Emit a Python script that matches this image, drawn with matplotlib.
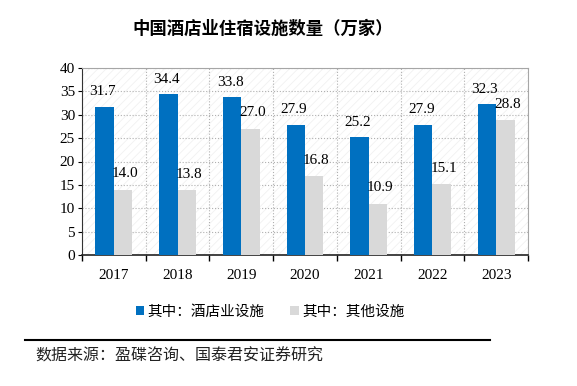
import numpy as np
import matplotlib.pyplot as plt
from matplotlib.patches import Rectangle

plt.rcParams['font.family'] = ['Noto Sans CJK SC', 'DejaVu Sans']
plt.rcParams['hatch.linewidth'] = 0.5

years = ['2017', '2018', '2019', '2020', '2021', '2022', '2023']
hotel = [31.7, 34.4, 33.8, 27.9, 25.2, 27.9, 32.3]
other = [14.0, 13.8, 27.0, 16.8, 10.9, 15.1, 28.8]
labels = ['其中：酒店业设施', '其中：其他设施']

blue = '#0070C0'
grey = '#D9D9D9'
serif = 'Liberation Serif'

fig = plt.figure(figsize=(5.77, 3.86), dpi=100)
ax = fig.add_axes([82 / 577, 1 - 255 / 386, 446 / 577, 187 / 386])

# faint diagonal hatch background
ax.add_patch(Rectangle((0, 0), 1, 1, transform=ax.transAxes, facecolor='white',
                       edgecolor='#efefef', hatch='////', lw=0, zorder=0))

x = np.arange(len(years))
w = 0.29
b1 = ax.bar(x - w / 2, hotel, w, color=blue, label=labels[0], zorder=3)
b2 = ax.bar(x + w / 2, other, w, color=grey, label=labels[1], zorder=3)

for xi, v in zip(x, hotel):
    ax.annotate(f'{v:.1f}', (xi - w / 2 - 0.03, v), xytext=(0, 6), textcoords='offset points',
                ha='center', va='bottom', fontsize=11, family=serif, zorder=4)
for xi, v in zip(x, other):
    ax.annotate(f'{v:.1f}', (xi + w / 2 + 0.03, v), xytext=(0, 7), textcoords='offset points',
                ha='center', va='bottom', fontsize=11, family=serif, zorder=4)

ax.set_xlim(-0.5, len(years) - 0.5)
ax.set_ylim(0, 40)
ax.set_yticks(range(0, 41, 5))
ax.set_xticks(x)
ax.set_xticklabels(years, family=serif, fontsize=11)
ax.set_xticks(np.arange(-0.5, len(years)), minor=True)
for lab in ax.get_yticklabels():
    lab.set_family(serif)
    lab.set_fontsize(11)

ax.tick_params(axis='x', which='major', length=0, pad=10)
ax.tick_params(axis='x', which='minor', length=4, direction='out', width=1)
ax.tick_params(axis='y', length=3, direction='out', pad=2)
ax.grid(axis='y', linestyle=':', color='#b0b0b0', lw=0.8, zorder=1)
ax.grid(axis='x', which='minor', linestyle=':', color='#b0b0b0', lw=0.8, zorder=1)

for s in ['top', 'right']:
    ax.spines[s].set_color('#a6a6a6')
ax.spines['left'].set_color('#333333')
ax.spines['bottom'].set_color('#222222')
ax.spines['bottom'].set_linewidth(1.2)

fig.text(263 / 577, 1 - 29 / 386, '中国酒店业住宿设施数量（万家）', ha='center', va='center',
         fontsize=12.5, fontweight='bold')

fig.legend(handles=[b1, b2], loc='center', bbox_to_anchor=(270 / 577, 1 - 312 / 386),
           ncol=2, frameon=False, fontsize=10.5, handlelength=0.6, handleheight=0.6,
           handletextpad=0.2, columnspacing=1.8)

fig.add_artist(plt.Line2D([25 / 577, 490 / 577], [1 - 340 / 386] * 2, color='black', lw=1.5))
fig.text(35 / 577, 1 - 356 / 386, '数据来源：盈碟咨询、国泰君安证券研究', ha='left', va='center',
         fontsize=11.5, color='#222222')

fig.savefig('out.png', dpi=100)
